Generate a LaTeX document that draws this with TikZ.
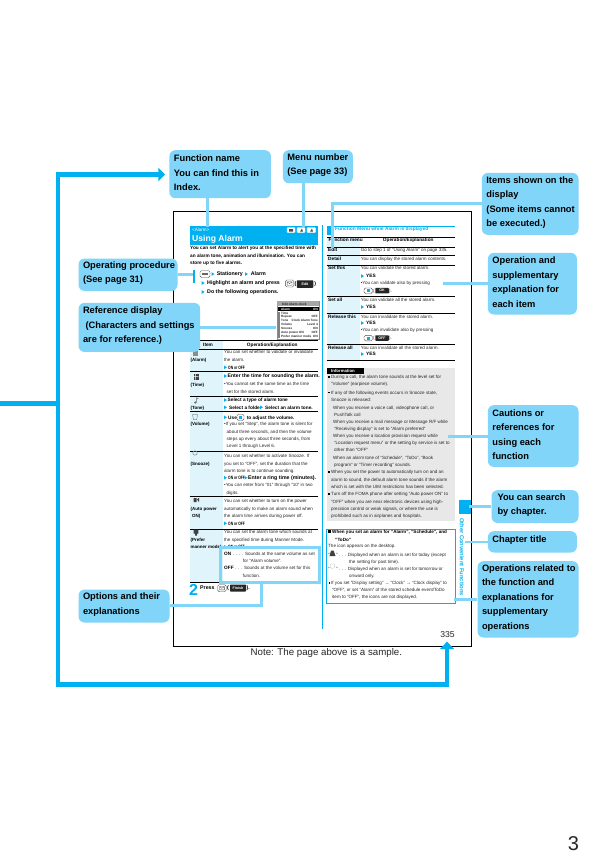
\documentclass[tikz,border=0pt]{standalone}
\usepackage{fontspec}
\setmainfont{Liberation Sans}
\usetikzlibrary{arrows.meta}
\definecolor{cyanA}{HTML}{00B0F0}
\definecolor{lightA}{HTML}{80D5F8}
\definecolor{paleA}{HTML}{E0F4FC}
\definecolor{grayA}{HTML}{E8E8E8}
\newcounter{tx}
\tikzset{
  callout/.style={fill=lightA,rounded corners=6pt,anchor=north west,inner xsep=4.5pt,inner ysep=0pt,align=flush left,
    font=\fontsize{9.3}{14.5}\selectfont\bfseries,execute at end node={\par\vspace{3pt}}},
  conn/.style={draw=lightA,line width=3pt},
  bigline/.style={draw=cyanA,line width=4.4pt,line join=miter,line cap=rect},
  tinytext/.style={anchor=west,inner sep=0pt,text height=4.6pt,text depth=1pt,font=\fontsize{4.55}{5}\selectfont,text=black!85},
  boldtext/.style={tinytext,font=\fontsize{4.75}{5}\selectfont\bfseries,text=black},
  steptext/.style={tinytext,font=\fontsize{5.3}{6}\selectfont\bfseries,text=black},
  rulea/.style={draw=black,line width=0.7pt},
  blackkey/.style={fill=black!85,rounded corners=0.6pt,text=white,inner sep=0pt,font=\fontsize{3.6}{4}\selectfont\bfseries,anchor=center},
  keyicon/.style={draw=black!70,fill=white,line width=0.4pt,rounded corners=1.5pt},
  scrtext/.style={tinytext,font=\fontsize{3.1}{3.5}\selectfont\bfseries,text=black!85},
  itemicon/.style={fill=black!45,draw=none},
  itemlabel/.style={font=\fontsize{4.5}{5}\selectfont\bfseries},
  bigop/.style={font=\fontsize{5.1}{5}\selectfont\bfseries},
}
\newcommand\T[4][]{\stepcounter{tx}\node[tinytext,#1] (t\the\value{tx}) at (#2,#3) {#4};}
\newcommand\B[4][]{\stepcounter{tx}\node[boldtext,#1] (t\the\value{tx}) at (#2,#3) {#4};}
\newcommand\St[3]{\stepcounter{tx}\node[steptext] (t\the\value{tx}) at (#1,#2) {#3};}
\newcommand\Scr[4][]{\stepcounter{tx}\node[scrtext,#1] (t\the\value{tx}) at (#2,#3) {#4};}
\newcommand\triAt[2]{\fill[cyanA] (#1,#2-1.8) -- (#1+3,#2) -- (#1,#2+1.8) -- cycle;}
\newcommand\onoff{\scalebox{0.7}[1]{ON or OFF}}
\newcommand\mailkey[2]{\draw[keyicon] (#1,#2) rectangle (#1+8.5,#2+7); \draw[black!70,line width=0.35pt] (#1+1.8,#2+1.8) rectangle (#1+6.7,#2+5.2) (#1+1.8,#2+1.8) -- (#1+4.25,#2+3.6) -- (#1+6.7,#2+1.8);}
\newcommand\okkey[2]{\draw[keyicon] (#1,#2) rectangle (#1+8.5,#2+5.5); \fill[cyanA] (#1+2.8,#2+1.2) rectangle (#1+5.7,#2+4.3);}
\begin{document}
\begin{tikzpicture}[x=1pt,y=-1pt]
\useasboundingbox (0,0) rectangle (613,868);
\fill[white] (0,0) rectangle (613,868);
% ---------- sample page
\draw[black,line width=1pt] (173.3,211.7) rectangle (471.3,646.3);
% left column header
\fill[cyanA] (190,226) rectangle (318,245);
\T[text=white]{192}{230}{<Alarm>}
\stepcounter{tx}\node[anchor=west,inner sep=0pt,text=white,font=\fontsize{8.6}{9}\selectfont\bfseries] (t\the\value{tx}) at (192,239.5) {Using Alarm};
\draw[white,fill=white,rounded corners=1pt] (287,227.5) rectangle (295,232.7);
\draw[white,fill=white,rounded corners=1pt] (297,227.5) rectangle (305,232.7);
\draw[white,fill=white,rounded corners=1pt] (307,227.5) rectangle (315.7,232.7);
\fill[black!70] (289,229) rectangle (293,231.5) (300,231.7) -- (302,228.5) -- (303,231.7) -- cycle (310,231.7) -- (312,228.5) -- (313,231.7) -- cycle;
\B{190}{247.7}{You can set Alarm to alert you at the specified time with}
\B{190}{255.3}{an alarm tone, animation and illumination. You can}
\B{190}{263}{store up to five alarms.}
% step 1
\fill[cyanA] (193.3,270) rectangle (194.8,282.7);
\draw[keyicon] (200,270.7) rectangle (210,277.5);
\fill[black!60] (202,273.3) rectangle (208,274.9);
\triAt{211.5}{274}
\St{216.7}{274}{Stationery}
\triAt{245}{274}
\St{250.7}{274}{Alarm}
\triAt{201.7}{283}
\St{207}{283}{Highlight an alarm and press}
\mailkey{285.3}{280}
\St{294.5}{283.5}{(}
\node[blackkey,minimum width=16.5pt,minimum height=7.5pt] (keyEdit) at (305,284) {Edit};
\St{314.2}{283.5}{)}
\triAt{201.7}{292}
\St{207}{292}{Do the following operations.}
% reference screen
\fill[white] (277.3,301) rectangle (319,339);
\draw[black!45,line width=0.4pt] (277.3,301) rectangle (319,339);
\fill[black!35] (277.3,301) rectangle (319,306);
\Scr{282}{303.4}{Edit Alarm clock}
\fill[black] (278,307) rectangle (318.5,311);
\Scr[text=white]{281}{308.8}{Alarm}
\Scr[text=white,anchor=east]{318}{308.8}{ON}
\Scr{281}{312.5}{Time}
\Scr{281}{316.1}{Repeat}
\Scr[anchor=east]{318}{316.1}{OFF}
\Scr{281}{320}{Tone}
\Scr[anchor=east]{318}{320}{Clock Alarm Tone}
\Scr{281}{323.8}{Volume}
\Scr[anchor=east]{318}{323.8}{Level 4}
\Scr{281}{327.8}{Snooze}
\Scr[anchor=east]{318}{327.8}{ON}
\Scr{281}{331.8}{Auto power ON}
\Scr[anchor=east]{318}{331.8}{OFF}
\Scr{281}{335.8}{Prefer manner mode}
\Scr[anchor=east]{318}{335.8}{ON}
\fill[black!50] (278,311.5) rectangle (280.3,338);
% left table
\fill[paleA] (190,340) rectangle (222.7,582);
\foreach \yy in {340,349.3,371,396.7,411.7,451,496,529.3,582} \draw[rulea] (190,\yy) -- (318,\yy);
\B{203}{344.2}{Item}
\B{246.7}{344.2}{Operation/Explanation}
% item icons
\fill[itemicon] (193,351) rectangle (198,355.5);
\fill[black!75] (193.5,373.5) rectangle (198.5,379.5);
\fill[white] (195.2,373.5) rectangle (195.7,379.5) (193.5,376) rectangle (198.5,376.5);
\draw[black!60,line width=0.5pt] (196.5,397.5) -- (196.5,402.5) (196.5,397.5) -- (198.5,399);
\fill[black!60] (195.3,402.5) circle (1.2pt);
\draw[black!45,line width=0.5pt] (192.5,414.5) -- (197.5,414.5) -- (196.7,419.5) -- (193.5,419.5) -- cycle;
\draw[black!45,line width=0.5pt] (195,453) circle (2.2pt);
\fill[black!75] (193.5,498) rectangle (196.5,502) (197,499.5) -- (199,497.5) -- (199,502) -- cycle;
\fill[black!75] (193.7,529.5) rectangle (198.3,533.5) (195,533.5) rectangle (197,535.5);
% Alarm
\B[itemlabel]{190.5}{359.5}{(Alarm)}
\T{224}{352}{You can set whether to validate or invalidate}
\T{224}{360}{the alarm.}
\triAt{224}{367.3}\B{228}{367.3}{\onoff}
% Time
\B[itemlabel]{190.5}{384.5}{(Time)}
\triAt{224}{376}\B[bigop]{227.5}{376}{Enter the time for sounding the alarm.}
\T{224}{384}{•You cannot set the same time as the time}
\T{226.5}{391.3}{set for the stored alarm.}
% Tone
\B[itemlabel]{190.5}{407.3}{(Tone)}
\triAt{224}{400}\B{227.5}{400}{Select a type of alarm tone}
\triAt{224}{407.3}\B{229}{407.3}{Select a folder}
\triAt{260}{407.3}\B{265}{407.3}{Select an alarm tone.}
% Volume
\B[itemlabel]{190.5}{424}{(Volume)}
\triAt{224}{417.3}\B{228}{417.3}{Use}
\draw[keyicon] (237,414.2) rectangle (244,420.5);
\fill[cyanA] (238.8,415.5) rectangle (242.2,419.2);
\B{246.7}{417.3}{to adjust the volume.}
\T{224}{424}{•If you set “Step”, the alarm tone is silent for}
\T{226.5}{431.7}{about three seconds, and then the volume}
\T{226.5}{439}{steps up every about three seconds, from}
\T{226.5}{446}{Level 1 through Level 6.}
% Snooze
\B[itemlabel]{190.5}{463.3}{(Snooze)}
\T{224}{455.7}{You can set whether to activate Snooze. If}
\T{224}{463.3}{you set to “OFF”, set the duration that the}
\T{224}{470.7}{alarm tone is to continue sounding.}
\triAt{224}{477.7}\B{228}{477.7}{\onoff}
\triAt{244.5}{477.7}\B[font=\fontsize{5.25}{5}\selectfont\bfseries]{248}{477.7}{Enter a ring time (minutes).}
\T{224}{485}{•You can enter from “01” through “10” in two}
\T{226.5}{492.3}{digits.}
% Auto power
\B[itemlabel]{190.5}{508.3}{(Auto power}
\B[itemlabel]{192}{516}{ON)}
\T{224}{500.7}{You can set whether to turn on the power}
\T{224}{508.3}{automatically to make an alarm sound when}
\T{224}{516}{the alarm time arrives during power off.}
\triAt{224}{523.3}\B{228}{523.3}{\onoff}
% Prefer manner
\B[itemlabel]{190.5}{539.3}{(Prefer}
\B[itemlabel]{190.5}{546.7}{manner mode)}
\T{224}{531.7}{You can set the alarm tone which sounds at}
\T{224}{539.3}{the specified time during Manner Mode.}
\triAt{224}{546.7}\B{228}{546.7}{\onoff}
\B{224}{554}{ON}
\T{233}{554}{. . . . Sounds at the same volume as set}
\T{242.7}{560.7}{for “Alarm volume”.}
\B{224}{568}{OFF}
\T{235}{568}{. . . Sounds at the volume set for this}
\T{242.7}{576}{function.}
% step 2
\stepcounter{tx}\node[anchor=center,inner sep=0pt,text=cyanA,font=\fontsize{16}{16}\selectfont\bfseries] (t\the\value{tx}) at (193.5,590) {2};
\St{200}{587.7}{Press}
\mailkey{217.7}{584.7}
\St{227}{587.7}{(}
\node[blackkey,minimum width=16pt,minimum height=7pt] (keyFinish) at (238,588) {Finish};
\St{246.5}{587.7}{).}
% right column
\draw[cyanA,line width=1pt] (322.7,225) -- (322.7,629.3);
\draw[cyanA,line width=0.9pt] (327,226) -- (455,226);
\fill[cyanA] (326.7,226) rectangle (333,235);
\B[text=cyanA,font=\fontsize{4.9}{5}\selectfont\bfseries]{335}{229}{Function Menu while Alarm is displayed}
\fill[paleA] (326.7,237.3) rectangle (360,360.7);
\foreach \yy in {237.3,247.3,255,265,296,313.3,344.3,360.7} \draw[rulea] (326.7,\yy) -- (455,\yy);
\B{328.5}{240}{Function menu}
\B{382.7}{240}{Operation/Explanation}
\B{328}{249.7}{Edit}
\T{360.7}{249.7}{Go to step 1 of “Using Alarm” on page 335.}
\B{328}{259}{Detail}
\T{360.7}{259}{You can display the stored alarm contents.}
\B{328}{268}{Set this}
\T{360.7}{268}{You can validate the stored alarm.}
\triAt{361}{276}\B{366}{276}{YES}
\T{360.7}{283}{•You can validate also by pressing}
\okkey{364}{288}
\T{373}{290.7}{(}
\node[blackkey,minimum width=13.5pt,minimum height=5.5pt] (keyOk) at (382,290.7) {OK};
\T{389}{290.7}{).}
\B{328}{299.3}{Set all}
\T{360.7}{299.3}{You can validate all the stored alarm.}
\triAt{361}{307}\B{366}{307}{YES}
\B{328}{316.3}{Release this}
\T{360.7}{316.3}{You can invalidate the stored alarm.}
\triAt{361}{323}\B{366}{323}{YES}
\T{360.7}{330}{•You can invalidate also by pressing}
\okkey{364}{335.3}
\T{373}{338}{(}
\node[blackkey,minimum width=13.5pt,minimum height=5.5pt] (keyOff) at (382,338) {OFF};
\T{389}{338}{).}
\B{328}{347.3}{Release all}
\T{360.7}{347.3}{You can invalidate all the stored alarm.}
\triAt{361}{354}\B{366}{354}{YES}
% information box
\fill[grayA] (326.7,368) rectangle (455,521);
\fill[black] (326.7,368) rectangle (364,373.5);
\B[text=white,font=\fontsize{4.3}{5}\selectfont\bfseries]{331}{370.4}{Information}
\T{331}{376.7}{During a call, the alarm tone sounds at the level set for}
\T{331}{384}{“Volume” (earpiece volume).}
\T{331}{392.3}{If any of the following events occurs in Snooze state,}
\T{331}{399.3}{Snooze is released:}
\T{333}{407.3}{When you receive a voice call, videophone call, or}
\T{334}{414.3}{PushTalk call}
\T{333}{421.3}{When you receive a mail message or Message R/F while}
\T{334}{428.3}{“Receiving display” is set to “Alarm preferred”}
\T{333}{435.3}{When you receive a location provision request while}
\T{334}{442.7}{“Location request menu” or the setting by service is set to}
\T{334}{450}{other than “OFF”}
\T{333}{457.3}{When an alarm tone of “Schedule”, “ToDo”, “Book}
\T{334}{464.3}{program” or “Timer recording” sounds.}
\T{331}{472}{When you set the power to automatically turn on and an}
\T{331}{479.3}{alarm to sound, the default alarm tone sounds if the alarm}
\T{331}{486.7}{which is set with the UIM restrictions has been selected.}
\T{331}{494}{Turn off the FOMA phone after setting “Auto power ON” to}
\T{331}{501.7}{“OFF” when you are near electronic devices using high-}
\T{331}{509}{precision control or weak signals, or where the use is}
\T{331}{516}{prohibited such as in airplanes and hospitals.}
\foreach \yy in {376.7,392.3,472,494} \fill[black] (328.2,\yy-0.8) rectangle (329.8,\yy+0.8);
% bordered box
\draw[cyanA,line width=0.8pt] (326.7,529) rectangle (455.7,603.3);
\fill[black] (328,530.2) rectangle (331,533.2);
\B[font=\fontsize{4.6}{5}\selectfont\bfseries]{332}{532}{When you set an alarm for “Alarm”, “Schedule”, and}
\B[font=\fontsize{4.6}{5}\selectfont\bfseries]{335}{539.3}{“ToDo”}
\T{328}{546}{The icon appears on the desktop.}
\T{328}{554.3}{“}
\fill[black!75] (331,550.7) -- (333.7,550.7) -- (335.5,556) -- (329.5,556) -- cycle;
\T{336}{554.3}{” . . . Displayed when an alarm is set for today (except}
\T{349}{561.3}{the setting for past time).}
\T{328}{568.3}{“}
\draw[black!55,line width=0.4pt,densely dotted] (332.5,566) circle (2.4pt);
\T{336}{568.3}{” . . . Displayed when an alarm is set for tomorrow or}
\T{349}{575.3}{onward only.}
\fill[black] (328.5,582.2) rectangle (330,583.8);
\T{331}{583}{If you set “Display setting” → “Clock” → “Clock display” to}
\T{332}{590}{“OFF”, or set “Alarm” of the stored schedule event/ToDo}
\T{332}{597}{item to “OFF”, the icons are not displayed.}
% chapter tab and page number
\fill[cyanA] (459,500) rectangle (471.3,514);
\node[inner sep=0pt,anchor=center,rotate=-90,text=cyanA,font=\fontsize{5.8}{6}\selectfont\bfseries] (chapterText) at (462,557) {Other Convenient Functions};
\node[anchor=east,inner sep=0pt,font=\fontsize{8.6}{9}\selectfont,text=black!85] (pageNum) at (454.8,634.7) {335};
% note and page number of this manual
\node[anchor=west,inner sep=0pt,font=\fontsize{9.7}{10}\selectfont,text=black!85] (noteText) at (250.5,653.3) {Note: The page above is a sample.};
\node[anchor=center,inner sep=0pt,font=\fontsize{20}{20}\selectfont,text=black!85] (manualPage) at (573.5,844) {3};
% ---------- big blue lines
\coordinate (leftEdge) at (0,403.3);
\coordinate (leftV) at (58,403.3);
\coordinate (topCorner) at (58,174.5);
\coordinate (topTip) at (165,174.5);
\coordinate (botCorner) at (58,684.5);
\coordinate (botRight) at (447,684.5);
\coordinate (botTip) at (447,641.7);
\draw[bigline] (leftEdge) -- (leftV);
\draw[bigline,-{Triangle[length=6.7pt,width=13.4pt]}] (botCorner) -- (topCorner) -- (topTip);
\draw[bigline,-{Triangle[length=7.3pt,width=14pt]}] (botCorner) -- (botRight) -- (botTip);
% ---------- callouts
\node[callout,minimum width=101.5pt,minimum height=48pt,text width=92.5pt] (cFunction) at (169.2,150) {\mbox{Function name}\\\mbox{You can find this in}\\Index.};
\node[callout,minimum width=70pt,minimum height=33pt,text width=61pt] (cMenu) at (282.7,150) {\mbox{Menu number}\\\mbox{(See page 33)}};
\node[callout,minimum width=96.6pt,minimum height=62pt,text width=87.6pt] (cItems) at (481.7,172.7) {\mbox{Items shown on the}\\display\\\mbox{(Some items cannot}\\\mbox{be executed.)}};
\node[callout,minimum width=89pt,minimum height=61.6pt,text width=80pt] (cOperation) at (487.7,252.7) {\mbox{Operation and}\\\mbox{supplementary}\\\mbox{explanation for}\\\mbox{each item}};
\node[callout,minimum width=99pt,minimum height=32.4pt,text width=90pt] (cProc) at (78.3,258.3) {\mbox{Operating procedure}\\\mbox{(See page 31)}};
\node[callout,minimum width=121.7pt,minimum height=49pt,text width=112.7pt] (cRef) at (78.3,302.7) {\mbox{Reference display}\\\mbox{\ (Characters and settings}\\\mbox{are for reference.)}};
\node[callout,minimum width=90.6pt,minimum height=61.7pt,text width=81.6pt] (cCaution) at (487.7,405) {\mbox{Cautions or}\\\mbox{references for}\\\mbox{using each}\\function};
\node[callout,minimum width=87pt,minimum height=32.7pt,text width=75pt,inner xsep=6pt] (cSearch) at (491.3,490) {\mbox{You can search}\\\mbox{by chapter.}};
\node[callout,minimum width=89pt,minimum height=21.3pt,text width=80pt] (cChapter) at (487.7,531) {\mbox{Chapter title}};
\node[callout,minimum width=101pt,minimum height=76.3pt,text width=92pt] (cRelated) at (477.3,561) {\mbox{Operations related to}\\\mbox{the function and}\\\mbox{explanations for}\\\mbox{supplementary}\\operations};
\node[callout,minimum width=91pt,minimum height=33pt,text width=82pt] (cOptions) at (78.3,589.3) {\mbox{Options and their}\\explanations};
% ---------- connectors
\coordinate (fEnd) at (207.3,227);
\draw[conn] (cFunction.south -| fEnd) -- (fEnd);
\coordinate (mEnd) at (303.8,227);
\draw[conn] (cMenu.south -| mEnd) -- (mEnd);
\coordinate (iCorner) at (332.5,203.8);
\coordinate (iEnd) at (332.5,248);
\draw[conn,line join=miter] (cItems.west |- iCorner) -- (iCorner) -- (iEnd);
\coordinate (oEnd) at (442.7,283.3);
\draw[conn] (cOperation.west |- oEnd) -- (oEnd);
\coordinate (pEnd) at (193,274.3);
\draw[conn] (cProc.east |- pEnd) -- (pEnd);
\coordinate (rEnd) at (276,327.3);
\draw[conn] (cRef.east |- rEnd) -- (rEnd);
\coordinate (cEnd) at (448,436);
\draw[conn] (cCaution.west |- cEnd) -- (cEnd);
\coordinate (sEnd) at (469,506.3);
\draw[conn] (cSearch.west |- sEnd) -- (sEnd);
\coordinate (tEnd) at (465,541.7);
\draw[conn,line width=2pt] (cChapter.west |- tEnd) -- (tEnd);
\coordinate (uEnd) at (454,599);
\draw[conn] (cRelated.west |- uEnd) -- (uEnd);
\coordinate (optA) at (220,547.3);
\coordinate (optB) at (319,582.3);
\draw[conn] (optA) rectangle (optB);
\coordinate (optCorner) at (261.2,605.3);
\coordinate (optTop) at (261.2,582.3);
\draw[conn,line join=miter] (cOptions.east |- optCorner) -- (optCorner) -- (optTop);
\end{tikzpicture}
\end{document}
